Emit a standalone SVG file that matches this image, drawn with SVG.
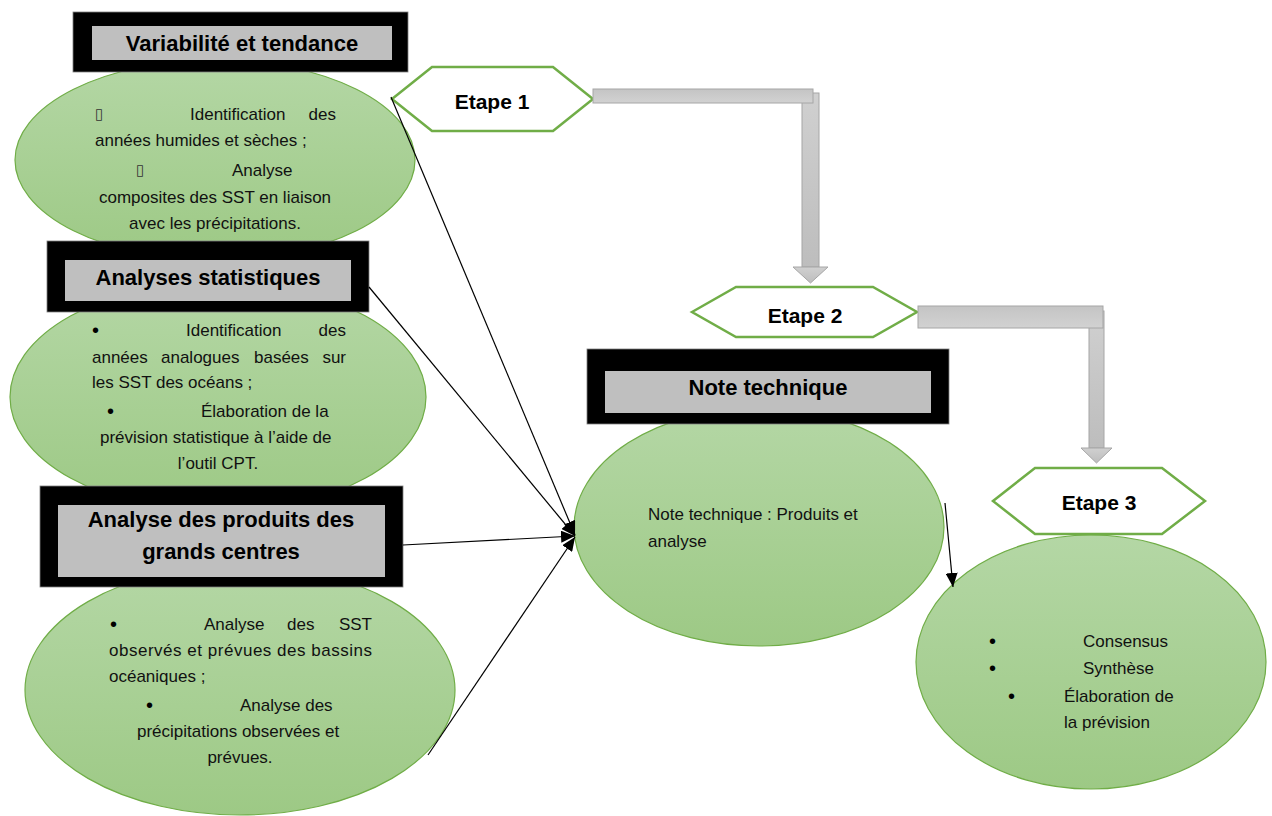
<svg xmlns="http://www.w3.org/2000/svg" width="1272" height="816" viewBox="0 0 1272 816">
<style>
.ell{fill:url(#gEll);stroke:#70ad47;stroke-width:1.2}
.outer{fill:#000;stroke:#7f7f7f;stroke-width:0.8}
.inner{fill:#bfbfbf}
.title{font-family:"Liberation Sans",Arial,sans-serif;font-weight:bold;font-size:22px;fill:#000;text-anchor:middle}
.t{font-family:"Liberation Sans",Arial,sans-serif;font-size:17px;fill:#111}
.bu{font-family:"Liberation Sans",Arial,sans-serif;font-size:20px;fill:#000}
.tofu{font-family:"DejaVu Sans",sans-serif;font-size:15px;fill:#333}
.m{text-anchor:middle}
.e{text-anchor:end}
.hex{fill:#fff;stroke:#70ad47;stroke-width:2.5}
.step{font-family:"Liberation Sans",Arial,sans-serif;font-weight:bold;font-size:21px;fill:#000;text-anchor:middle}
.conn{stroke:#000;stroke-width:1.2;fill:none;marker-end:url(#ah)}
.bar{fill:url(#gBar);stroke:#a6a6a6;stroke-width:1}
.shaft{fill:url(#gShaft);stroke:#a6a6a6;stroke-width:1}
</style>
<defs>
<linearGradient id="gEll" x1="0" y1="0" x2="0" y2="1">
<stop offset="0" stop-color="#b4d7a5"/>
<stop offset="1" stop-color="#9dc985"/>
</linearGradient>
<linearGradient id="gBar" x1="0" y1="0" x2="0" y2="1">
<stop offset="0" stop-color="#c4c4c4"/>
<stop offset="1" stop-color="#d2d2d2"/>
</linearGradient>
<linearGradient id="gShaft" x1="0" y1="0" x2="0" y2="1">
<stop offset="0" stop-color="#d0d0d0"/>
<stop offset="1" stop-color="#bdbdbd"/>
</linearGradient>
<marker id="ah" markerUnits="userSpaceOnUse" markerWidth="16" markerHeight="12" refX="14" refY="6" orient="auto">
<path d="M0,0 L14,6 L0,12 Z" fill="#000"/>
</marker>
</defs>

<g id="ellipse-variabilite">
<ellipse class="ell" cx="215" cy="160" rx="200" ry="100"/>
<text class="tofu" x="95" y="119">▯</text>
<text class="t" x="190" y="120">Identification</text>
<text class="t e" x="336" y="120">des</text>
<text class="t" x="95" y="146">années humides et sèches ;</text>
<text class="tofu" x="136" y="175">▯</text>
<text class="t" x="232" y="176">Analyse</text>
<text class="t m" x="215" y="203">composites des SST en liaison</text>
<text class="t m" x="215" y="229">avec les précipitations.</text>
</g>

<g id="ellipse-statistiques">
<ellipse class="ell" cx="218" cy="397" rx="208" ry="115"/>
<text class="bu" x="92" y="337">•</text>
<text class="t" x="186" y="336">Identification</text>
<text class="t e" x="346" y="336">des</text>
<text class="t" x="92" y="363">années</text>
<text class="t" x="161" y="363">analogues</text>
<text class="t" x="254" y="363">basées</text>
<text class="t e" x="346" y="363">sur</text>
<text class="t" x="92" y="388">les SST des océans ;</text>
<text class="bu" x="107" y="418">•</text>
<text class="t" x="201" y="417">Élaboration de la</text>
<text class="t" x="100" y="443">prévision statistique à l’aide de</text>
<text class="t m" x="218" y="469">l’outil CPT.</text>
</g>

<g id="ellipse-produits">
<ellipse class="ell" cx="240" cy="690" rx="215" ry="125"/>
<text class="bu" x="110" y="631">•</text>
<text class="t" x="204" y="630">Analyse</text>
<text class="t" x="287" y="630">des</text>
<text class="t e" x="372" y="630">SST</text>
<text class="t" x="109" y="656" textLength="263" lengthAdjust="spacing">observés et prévues des bassins</text>
<text class="t" x="109" y="682">océaniques ;</text>
<text class="bu" x="146" y="712">•</text>
<text class="t" x="240" y="711">Analyse des</text>
<text class="t" x="137" y="737">précipitations observées et</text>
<text class="t m" x="240" y="763">prévues.</text>
</g>

<g id="box-variabilite">
<rect class="outer" x="73" y="12" width="335" height="60"/>
<rect class="inner" x="92" y="26" width="300" height="34"/>
<text class="title" x="242" y="51">Variabilité et tendance</text>
</g>

<g id="box-statistiques">
<rect class="outer" x="47" y="241" width="322" height="71"/>
<rect class="inner" x="65" y="260" width="286" height="41"/>
<text class="title" x="208" y="285">Analyses statistiques</text>
</g>

<g id="box-produits">
<rect class="outer" x="40" y="486" width="363" height="101"/>
<rect class="inner" x="58" y="505" width="327" height="72"/>
<text class="title" x="221" y="527">Analyse des produits des</text>
<text class="title" x="221" y="559">grands centres</text>
</g>

<g id="ellipse-note">
<ellipse class="ell" cx="759" cy="527" rx="185" ry="119"/>
<text class="t" x="648" y="520">Note technique : Produits et</text>
<text class="t" x="648" y="547">analyse</text>
</g>

<g id="box-note">
<rect class="outer" x="587" y="349" width="362" height="75"/>
<rect class="inner" x="605" y="371" width="326" height="42"/>
<text class="title" x="768" y="395">Note technique</text>
</g>

<g id="ellipse-synthese">
<ellipse class="ell" cx="1091" cy="662" rx="175" ry="127"/>
<text class="bu" x="989" y="648">•</text>
<text class="t" x="1083" y="647">Consensus</text>
<text class="bu" x="989" y="675">•</text>
<text class="t" x="1083" y="674">Synthèse</text>
<text class="bu" x="1008" y="703">•</text>
<text class="t" x="1064" y="702">Élaboration de</text>
<text class="t" x="1064" y="728">la prévision</text>
</g>

<g id="etape1">
<polygon class="hex" points="392,99 432,67 553,67 593,99 553,131 432,131"/>
<text class="step" x="492" y="109">Etape 1</text>
</g>
<g id="etape2">
<polygon class="hex" points="692,312 736,287 873,287 917,312 873,337 736,337"/>
<text class="step" x="805" y="323">Etape 2</text>
</g>
<g id="etape3">
<polygon class="hex" points="993,501 1035,468 1162,468 1205,501 1162,534 1035,534"/>
<text class="step" x="1099" y="510">Etape 3</text>
</g>

<g id="connectors">
<rect class="shaft" x="802" y="93" width="17" height="174"/>
<polygon class="shaft" points="793,267 828,267 810.5,283"/>
<rect class="bar" x="593" y="89" width="220" height="14"/>
<rect class="shaft" x="1089" y="311" width="15" height="137"/>
<polygon class="shaft" points="1081,448 1112,448 1096.5,463"/>
<rect class="bar" x="918" y="306" width="185" height="22"/>
<line class="conn" x1="391" y1="97" x2="575" y2="535"/>
<line class="conn" x1="369" y1="287" x2="575" y2="536"/>
<line class="conn" x1="403" y1="545" x2="575" y2="536"/>
<line class="conn" x1="428" y1="755" x2="575" y2="537"/>
<line class="conn" x1="945" y1="503" x2="953" y2="587"/>
</g>
</svg>
